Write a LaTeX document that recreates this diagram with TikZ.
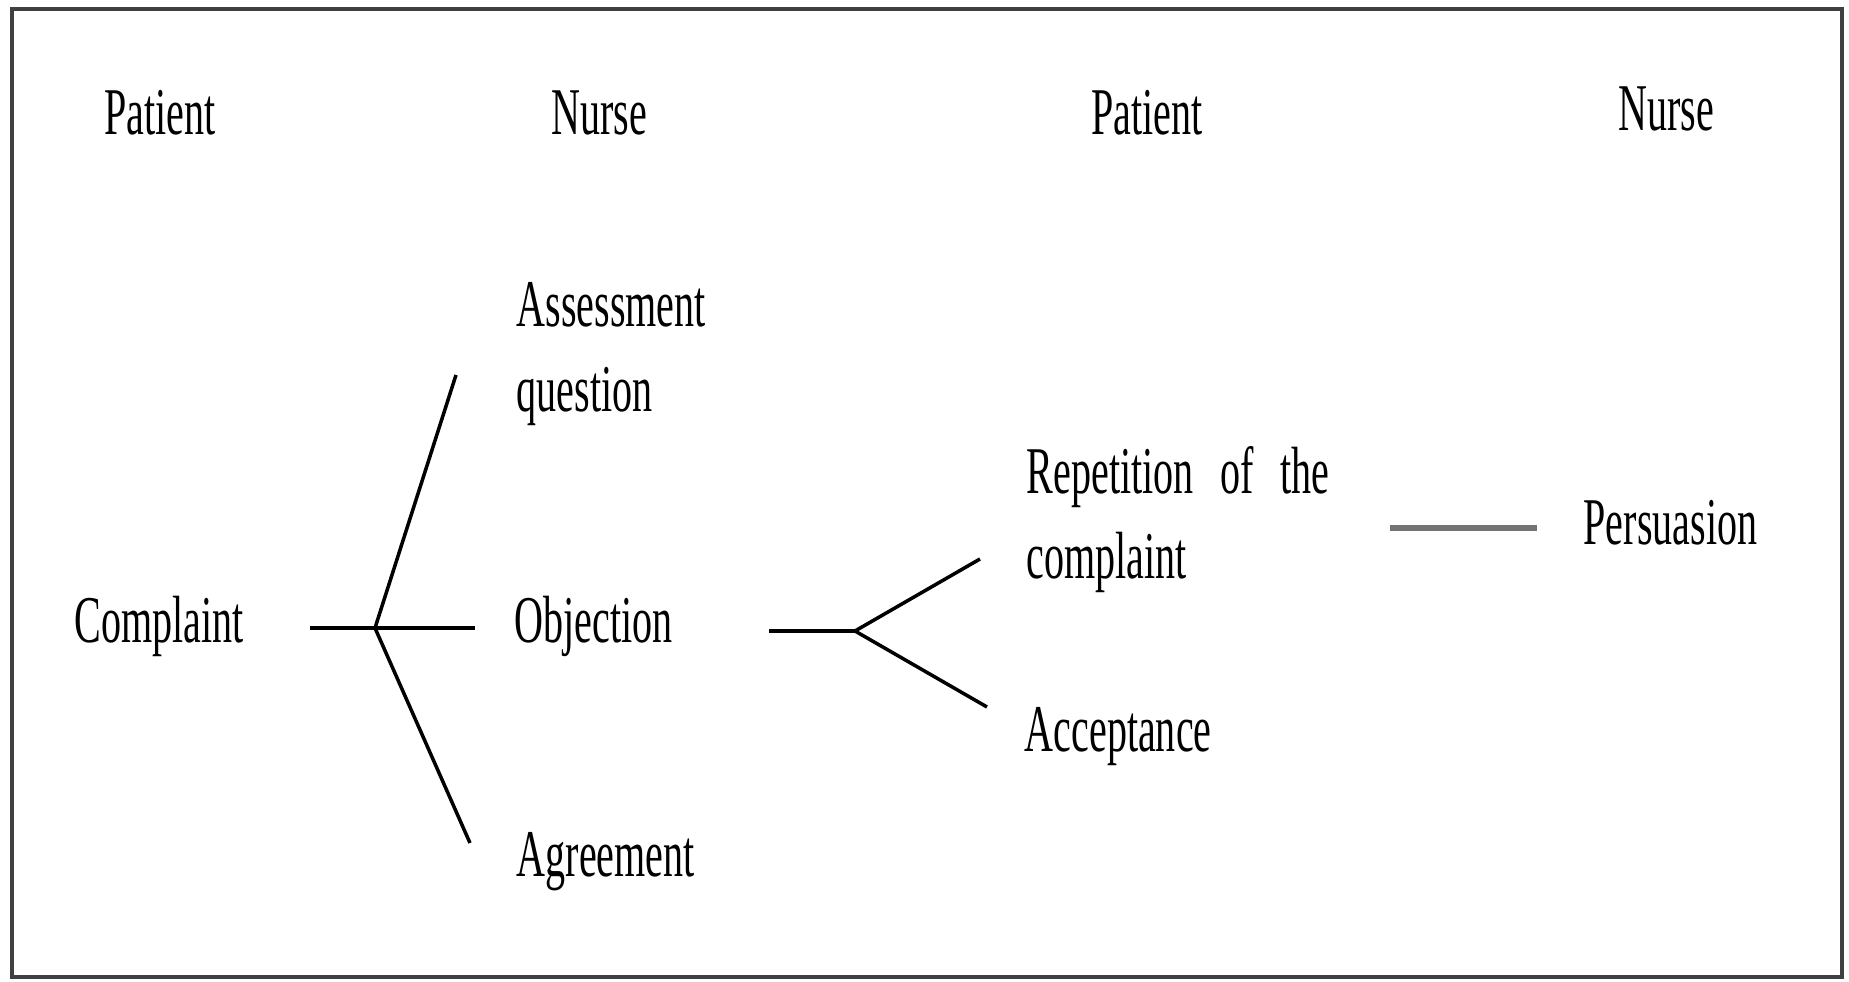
\documentclass[tikz,border=0pt]{standalone}
\usepackage{fontspec}
\setmainfont[FakeStretch=0.6]{Liberation Serif}
\tikzset{
  lbl/.style={anchor=base west, inner sep=0pt, align=left, font=\fontsize{19}{24.3}\selectfont},
  head/.style={anchor=base, inner sep=0pt, font=\fontsize{19}{24.3}\selectfont},
  branch/.style={line width=1pt, black},
  link/.style={line width=1.8pt, black!55}
}
\begin{document}
\begin{tikzpicture}
\useasboundingbox (0,0) rectangle (18.49,-9.82);
\draw [line width=0.9pt, black!75] (0.12,-0.09) rectangle (18.42,-9.77);

% column heads
\node [head] (p1) at (1.60,-1.35) {Patient};
\node [head] (n1) at (5.99,-1.35) {Nurse};
\node [head] (p2) at (11.47,-1.35) {Patient};
\node [head] (n2) at (16.66,-1.31) {Nurse};

% moves (two-line labels sit on their last line)
\node [lbl] (cmp) at (0.74,-6.43) {Complaint};
\node [lbl] (asq) at (5.16,-4.12) {Assessment\\question};
\node [lbl] (obj) at (5.14,-6.43) {Objection};
\node [lbl] (agr) at (5.16,-8.77) {Agreement};
\node [lbl] (rep) at (10.26,-5.79) {Repetition\hspace{0.4em}of\hspace{0.4em}the\\complaint};
\node [lbl] (acc) at (10.24,-7.52) {Acceptance};
\node [lbl] (per) at (15.83,-5.45) {Persuasion};

% first fork
\coordinate (v1) at (3.10,-6.28);
\coordinate (v2) at (3.75,-6.28);
\coordinate (v3) at (4.75,-6.28);
\coordinate (v4) at (4.56,-3.75);
\coordinate (v5) at (4.70,-8.43);
\draw [branch] (v1) -- (v3);
\draw [branch] (v2) -- (v4);
\draw [branch] (v2) -- (v5);

% second fork
\coordinate (v6) at (7.69,-6.31);
\coordinate (v7) at (8.55,-6.31);
\coordinate (v8) at (9.80,-5.59);
\coordinate (v9) at (9.87,-7.07);
\draw [branch] (v6) -- (v7);
\draw [branch] (v7) -- (v8);
\draw [branch] (v7) -- (v9);

\coordinate (v10) at (13.90,-5.28);
\coordinate (v11) at (15.37,-5.28);
\draw [link] (v10) -- (v11);
\end{tikzpicture}
\end{document}
